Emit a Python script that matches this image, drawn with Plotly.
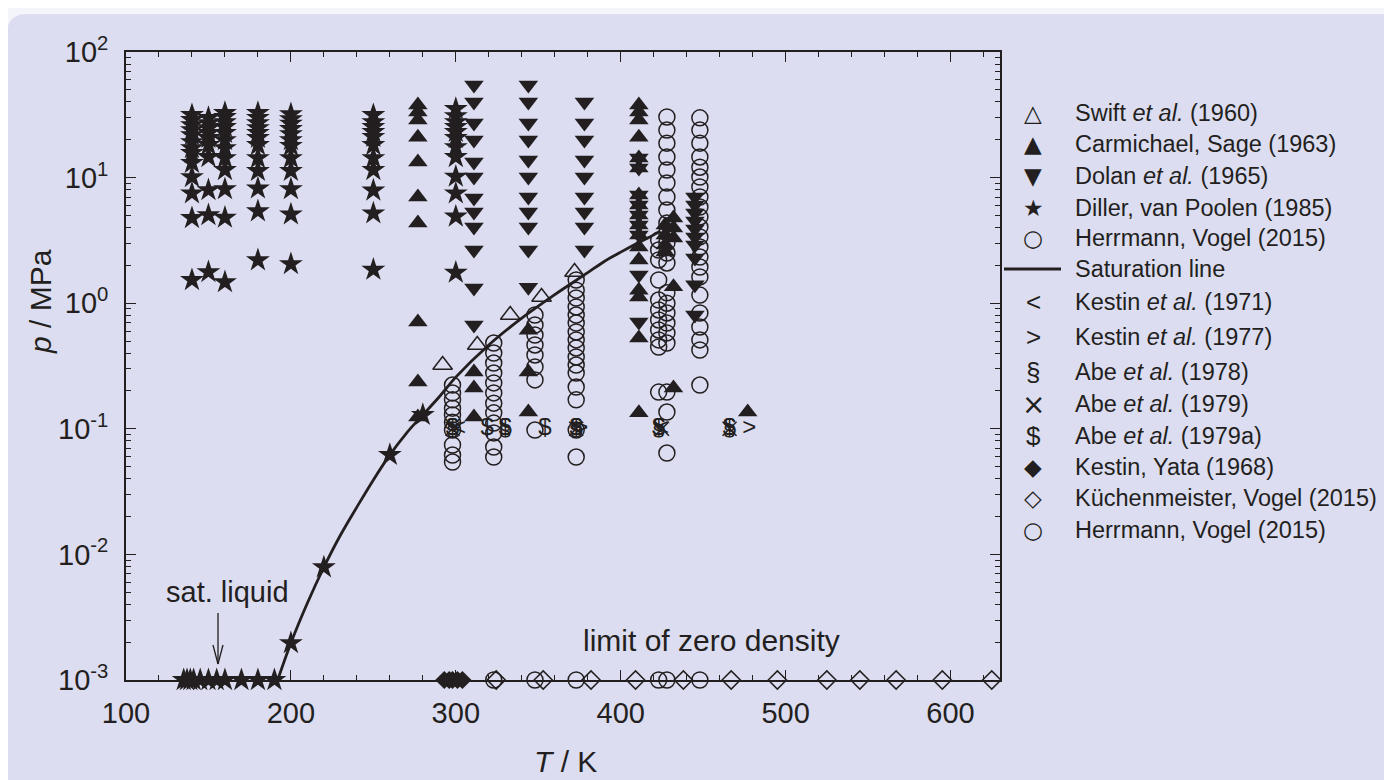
import plotly.graph_objects as go

# ------------------------------------------------------------------ data
# temperatures in K, pressures in MPa

# Diller, van Poolen (1985): isotherms (compressed liquid)
diller_T = [140, 150, 160, 180, 200, 250, 300]
diller_p = [
    [31.5, 28.8, 26.2, 23.9, 21.8, 19.2, 17.2, 15.7, 13.1, 10.1, 7.5, 4.77, 1.53],
    [29.9, 27.2, 24.8, 22.7, 20.7, 18.2, 14.6, 7.96, 5.03, 1.77],
    [32.7, 30.4, 27.7, 25.3, 22.7, 19.9, 17.2, 14.3, 11.5, 8.1, 4.8, 1.47],
    [32.7, 29.9, 27.2, 24.8, 22.7, 20.7, 18.2, 14.3, 11.3, 8.2, 5.4, 2.2],
    [32.0, 29.2, 26.9, 24.4, 22.2, 19.9, 17.9, 14.3, 11.3, 8.1, 5.1, 2.05],
    [31.5, 27.7, 25.3, 23.1, 21.1, 18.2, 14.3, 11.5, 7.9, 5.2, 1.85],
    [35.2, 30.9, 27.7, 25.3, 23.1, 20.7, 17.5, 14.6, 10.2, 7.5, 4.9, 1.75],
]
# Diller, van Poolen (1985): saturated liquid
diller_sat_T = [135, 137, 139, 141, 145, 150, 155, 160, 170, 180, 190, 200, 220, 260, 280]
diller_sat_p = [0.001, 0.001, 0.001, 0.001, 0.001, 0.001, 0.001, 0.001, 0.001, 0.001, 0.001,
                0.00197, 0.0079, 0.062, 0.129]

# Swift et al. (1960)
swift_T = [292, 313, 333, 352, 372]
swift_p = [0.322, 0.465, 0.805, 1.12, 1.77]

# Carmichael, Sage (1963): isotherms
carm_T = [277, 311, 344, 411, 427, 432, 477]
carm_p = [
    [37.9, 33.3, 28.8, 21.0, 13.3, 7.0, 4.35, 0.709, 0.236, 0.124],
    [0.283, 0.211, 0.124],
    [0.61, 0.283, 0.136],
    [37.9, 33.3, 28.8, 21.0, 14.3, 11.9, 7.27, 6.05, 5.04, 4.19, 3.49, 2.80, 2.21, 1.27, 1.12, 0.528, 0.134],
    [4.19, 3.49, 2.91, 2.56],
    [4.77, 3.97, 3.30, 1.35, 0.211],
    [0.136],
]

# Dolan et al. (1965): isotherms
dolan_T = [311, 344, 378, 411, 445]
dolan_p = [
    [54.6, 40.0, 27.2, 19.9, 13.3, 10.1, 6.88, 5.32, 4.04, 2.65, 1.32, 0.67],
    [54.6, 40.0, 27.2, 19.9, 13.8, 10.1, 7.01, 5.32, 4.04, 2.65, 1.34],
    [40.0, 27.2, 19.9, 13.8, 10.1, 7.01, 5.32, 4.04, 2.65],
    [14.3, 11.9, 7.27, 6.05, 5.04, 4.19, 3.49, 1.68, 0.709],
    [7.01, 6.05, 5.22, 4.51, 3.90, 3.37, 2.91, 2.29, 1.40, 0.805],
]

# Herrmann, Vogel (2015): isotherms (dense gas / liquid)
herr_T = [298, 323, 348, 373, 423, 428, 448]
herr_p = [
    [0.223, 0.193, 0.170, 0.146, 0.129, 0.113, 0.0978, 0.0743, 0.0618, 0.0544],
    [0.482, 0.401, 0.334, 0.278, 0.232, 0.193, 0.160, 0.134, 0.111, 0.0927, 0.0716, 0.0596],
    [0.805, 0.67, 0.558, 0.465, 0.387, 0.311, 0.245, 0.0978],
    [1.53, 1.27, 1.10, 0.933, 0.805, 0.695, 0.590, 0.51, 0.440, 0.373, 0.322, 0.278, 0.215, 0.170, 0.0978, 0.0596],
    [3.18, 2.65, 2.21, 1.53, 1.06, 0.883, 0.735, 0.612, 0.51, 0.448, 0.196],
    [30.4, 23.9, 18.8, 14.6, 11.5, 9.06, 7.01, 5.52, 4.35, 3.62, 3.02, 2.51, 2.09, 1.21, 1.00,
     0.836, 0.695, 0.58, 0.482, 0.196, 0.136, 0.0641],
    [29.9, 23.9, 18.8, 14.6, 12.1, 10.1, 8.42, 7.01, 5.83, 4.86, 4.04, 3.37, 2.80, 2.33, 1.94,
     1.62, 1.16, 0.836, 0.647, 0.51, 0.424, 0.223],
]

# saturation (vapour-pressure) line
sat_T = [192, 200, 210, 220, 230, 240, 250, 260, 270, 280, 290, 300, 320, 340, 360, 380, 390, 400, 410, 420, 424]
sat_p = [0.001, 0.00197, 0.0041, 0.0079, 0.0142, 0.0238, 0.0392, 0.062, 0.0921, 0.129, 0.180, 0.258,
         0.465, 0.76, 1.17, 1.75, 2.15, 2.55, 3.0, 3.5, 3.75]

# near-atmospheric data (0.1 MPa)
kestin71_T = [302, 373, 425]
kestin71_p = [0.1, 0.1, 0.1]
kestin77_T = [376, 478]
kestin77_p = [0.1, 0.1]
abe78_T = [298, 330, 373, 423, 466]
abe78_p = [0.1, 0.1, 0.1, 0.1, 0.1]
abe79_T = [298, 373, 425, 466]
abe79_p = [0.1, 0.1, 0.1, 0.1]
abe79a_T = [298, 319, 330, 354, 373, 423, 466]
abe79a_p = [0.1, 0.1, 0.1, 0.1, 0.1, 0.1, 0.1]

# limit of zero density (plotted at 1e-3 MPa)
kestin_yata_T = [293, 296, 298, 301, 304]
kestin_yata_p = [0.001, 0.001, 0.001, 0.001, 0.001]
kuechen_T = [324.5, 353, 382, 409, 438, 467, 495, 525, 545, 567, 595, 625]
kuechen_p = [0.001, 0.001, 0.001, 0.001, 0.001, 0.001, 0.001, 0.001, 0.001, 0.001, 0.001, 0.001]
herr0_T = [323, 348, 373, 423, 428, 448]
herr0_p = [0.001, 0.001, 0.001, 0.001, 0.001, 0.001]

# axes
x_ticks = [100, 200, 300, 400, 500, 600]
y_ticks = [1e-3, 1e-2, 1e-1, 1e0, 1e1, 1e2]
y_tick_text = ["10<sup>-3</sup>", "10<sup>-2</sup>", "10<sup>-1</sup>",
               "10<sup>0</sup>", "10<sup>1</sup>", "10<sup>2</sup>"]

legend_labels = [
    "Swift <i>et al.</i> (1960)", "Carmichael, Sage (1963)", "Dolan <i>et al.</i> (1965)",
    "Diller, van Poolen (1985)", "Herrmann, Vogel (2015)", "Saturation line",
    "Kestin <i>et al.</i> (1971)", "Kestin <i>et al.</i> (1977)", "Abe <i>et al.</i> (1978)",
    "Abe <i>et al.</i> (1979)", "Abe <i>et al.</i> (1979a)", "Kestin, Yata (1968)",
    "Küchenmeister, Vogel (2015)", "Herrmann, Vogel (2015)",
]
legend_glyphs = ["△", "▲", "▼", "★", "○", None, "<", ">", "§", "×", "&#36;", "◆", "◇", "○"]

# ------------------------------------------------------------------ style
INK = "#231f20"
PANEL = "#dcddf0"
OUTER = "#f4f4fb"
FONT = "Liberation Sans, Arial, sans-serif"
SYMFONT = "DejaVu Sans, sans-serif"

OFF = 8                      # page offset of the figure (body margin)
W, H = 1392 - OFF, 780 - OFF
# plot area in page pixels
PL, PR, PT, PB = 126, 1000, 52, 680
L, R, T_, B = PL - OFF, PR - OFF, PT - OFF, PB - OFF


def px(xp):
    """page x pixel -> paper fraction"""
    return (xp - PL) / (PR - PL)


def py(yp):
    """page y pixel -> paper fraction"""
    return (PB - yp) / (PB - PT)


def flatten(Ts, Ps):
    xs, ys = [], []
    for t, plist in zip(Ts, Ps):
        for p in plist:
            xs.append(t)
            ys.append(p)
    return xs, ys


fig = go.Figure()


def marker_trace(x, y, symbol, size, filled=True, lw=1.5):
    fig.add_trace(go.Scatter(
        x=x, y=y, mode="markers", showlegend=False, cliponaxis=False,
        marker=dict(symbol=symbol, size=size, color=INK,
                    line=dict(color=INK, width=(lw if not filled else 0))),
    ))


def text_trace(x, y, glyph, size=24):
    fig.add_trace(go.Scatter(
        x=x, y=y, mode="text", text=[glyph] * len(x), showlegend=False, cliponaxis=False,
        textposition="middle center", textfont=dict(family=FONT, size=size, color=INK),
    ))


hx, hy = flatten(herr_T, herr_p)
marker_trace(hx, hy, "circle-open", 16, filled=False, lw=1.5)
marker_trace(herr0_T, herr0_p, "circle-open", 16, filled=False, lw=1.5)

fig.add_trace(go.Scatter(x=sat_T, y=sat_p, mode="lines", showlegend=False,
                         line=dict(color=INK, width=2.8, shape="spline")))

dx, dy = flatten(diller_T, diller_p)
marker_trace(dx, dy, "star", 18)
marker_trace(diller_sat_T, diller_sat_p, "star", 18)

cx, cy = flatten(carm_T, carm_p)
marker_trace(cx, cy, "triangle-up", 17)
ox, oy = flatten(dolan_T, dolan_p)
marker_trace(ox, oy, "triangle-down", 17)
marker_trace(swift_T, swift_p, "triangle-up-open", 17, filled=False, lw=1.5)

marker_trace(kestin_yata_T, kestin_yata_p, "diamond", 14)
marker_trace(kuechen_T, kuechen_p, "diamond-open", 14, filled=False, lw=1.5)

text_trace(kestin71_T, kestin71_p, "<")
text_trace(kestin77_T, kestin77_p, ">")
text_trace(abe78_T, abe78_p, "§")
marker_trace(abe79_T, abe79_p, "x-thin-open", 14, filled=False, lw=1.5)
text_trace(abe79a_T, abe79a_p, "&#36;")

# ------------------------------------------------------------------ annotations
ann = []
shapes = []

# panel with rounded top-left corner on a lighter page background
shapes.append(dict(
    type="path", xref="paper", yref="paper", layer="below",
    path=(f"M {px(7)},{py(800)} L {px(7)},{py(34)} Q {px(7)},{py(14)} {px(27)},{py(14)} "
          f"L {px(1400)},{py(14)} L {px(1400)},{py(800)} Z"),
    fillcolor=PANEL, line=dict(width=0),
))

# legend (manual)
leg_y = [113, 144, 176, 208, 238, 269, 302, 337, 372, 404, 436, 467, 498, 530]
for lab, g, yy in zip(legend_labels, legend_glyphs, leg_y):
    ann.append(dict(xref="paper", yref="paper", x=px(1073), y=py(yy), text=lab,
                    showarrow=False, xanchor="left", yanchor="middle",
                    font=dict(family=FONT, size=23.5, color=INK)))
    if g is None:
        shapes.append(dict(type="line", xref="paper", yref="paper",
                           x0=px(1004), x1=px(1061), y0=py(yy), y1=py(yy),
                           line=dict(color=INK, width=2.8)))
    else:
        if g in ("<", ">", "§", "&#36;"):
            f = dict(family=FONT, size=26, color=INK)
        elif g == "×":
            f = dict(family=SYMFONT, size=28, color=INK)
        else:
            f = dict(family=SYMFONT, size=23, color=INK)
        ann.append(dict(xref="paper", yref="paper", x=px(1033), y=py(yy), text=g,
                        showarrow=False, xanchor="center", yanchor="middle", font=f))

# text labels in plot
ann.append(dict(xref="paper", yref="paper", x=px(227), y=py(592), text="sat. liquid",
                showarrow=False, xanchor="center", yanchor="middle",
                font=dict(family=FONT, size=29, color=INK)))
ann.append(dict(xref="paper", yref="paper", x=px(711), y=py(640), text="limit of zero density",
                showarrow=False, xanchor="center", yanchor="middle",
                font=dict(family=FONT, size=30, color=INK)))
# arrow for sat. liquid
shapes.append(dict(type="line", xref="paper", yref="paper", x0=px(218), x1=px(218),
                   y0=py(613), y1=py(664), line=dict(color=INK, width=1.3)))
shapes.append(dict(type="line", xref="paper", yref="paper", x0=px(213), x1=px(218),
                   y0=py(645), y1=py(664), line=dict(color=INK, width=1.3)))
shapes.append(dict(type="line", xref="paper", yref="paper", x0=px(223), x1=px(218),
                   y0=py(645), y1=py(664), line=dict(color=INK, width=1.3)))

# axis titles
ann.append(dict(xref="paper", yref="paper", x=px(565), y=py(761), text="<i>T</i> / K",
                showarrow=False, xanchor="center", yanchor="middle",
                font=dict(family=FONT, size=30, color=INK)))
ann.append(dict(xref="paper", yref="paper", x=px(40), y=py(302), text="<i>p</i> / MPa",
                showarrow=False, xanchor="center", yanchor="middle", textangle=-90,
                font=dict(family=FONT, size=30, color=INK)))

minor_y = [k * 10.0 ** e for e in range(-3, 2) for k in range(2, 10)]

fig.update_layout(
    width=W, height=H,
    margin=dict(l=L, r=W - R, t=T_, b=H - B, pad=0),
    paper_bgcolor=OUTER, plot_bgcolor=PANEL,
    font=dict(family=FONT, color=INK),
    annotations=ann, shapes=shapes,
    xaxis=dict(
        range=[100, 630], tickmode="array", tickvals=x_ticks,
        ticks="inside", ticklen=10, tickwidth=1.4, tickcolor=INK,
        showline=True, linecolor=INK, linewidth=1.6, mirror="ticks",
        showgrid=False, zeroline=False,
        tickfont=dict(family=FONT, size=29, color=INK), ticklabelstandoff=6,
        minor=dict(dtick=20, tick0=100, ticks="inside", ticklen=5, tickwidth=1.2,
                   tickcolor=INK, showgrid=False),
    ),
    yaxis=dict(
        type="log", range=[-3, 2], tickmode="array", tickvals=y_ticks, ticktext=y_tick_text,
        ticks="inside", ticklen=10, tickwidth=1.4, tickcolor=INK,
        showline=True, linecolor=INK, linewidth=1.6, mirror="ticks",
        showgrid=False, zeroline=False,
        tickfont=dict(family=FONT, size=29, color=INK), ticklabelstandoff=10,
        minor=dict(tickmode="array", tickvals=minor_y, ticks="inside", ticklen=5,
                   tickwidth=1.2, tickcolor=INK, showgrid=False),
    ),
)

fig.write_html("out.html")
